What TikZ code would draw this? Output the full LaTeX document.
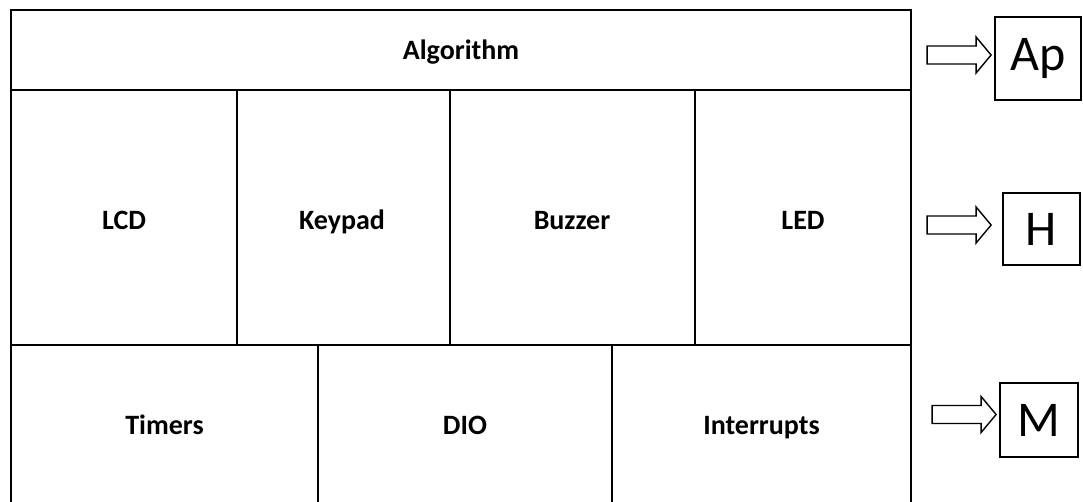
\documentclass[tikz,border=0pt]{standalone}
\usepackage{fontspec}
\setmainfont{Carlito}

\newcommand{\blockarrow}[1]{%
  \draw[hollow] (#1) ++(-64,-9) -- ++(49,0) -- ++(0,-9) -- ++(15,18)
    -- ++(-15,18) -- ++(0,-9) -- ++(-49,0) -- cycle;}

\begin{document}
\begin{tikzpicture}[x=1pt, y=-1pt,
    grid/.style={line width=2.8pt, line cap=rect},
    cell/.style={anchor=base, font=\fontsize{28}{32}\selectfont\bfseries},
    layer/.style={draw, line width=1.8pt, inner sep=0pt,
      font=\fontsize{50}{60}\selectfont},
    hollow/.style={draw, line width=1.4pt, line join=miter}]
  \useasboundingbox (0,0) rectangle (1083,501);
  % main stack, open at the bottom
  \draw[grid] (11,501) -- (11,10) -- (911,10) -- (911,501);
  \draw[grid] (11,90) -- (911,90);
  \draw[grid] (11,345) -- (911,345);
  \foreach \x in {237,450,695} \draw[grid] (\x,90) -- (\x,345);
  \foreach \x in {318,612} \draw[grid] (\x,345) -- (\x,501);
  \node[cell] (alg) at (461,59) {Algorithm};
  \node[cell] (lcd) at (124,229) {LCD};
  \node[cell] (keypad) at (342,229) {Keypad};
  \node[cell] (buzzer) at (572,229) {Buzzer};
  \node[cell] (led) at (803,229) {LED};
  \node[cell] (timers) at (164.5,434) {Timers};
  \node[cell] (dio) at (465,434) {DIO};
  \node[cell] (irq) at (761.5,434) {Interrupts};
  % layer tags on the right
  \node[layer, minimum width=86pt, minimum height=83pt] (ap) at (1038,58.5) {Ap};
  \node[layer, minimum width=77pt, minimum height=72pt] (hal) at (1041.5,229) {H};
  \node[layer, minimum width=78pt, minimum height=74pt] (mcal) at (1039,420) {M};
  \coordinate (toap) at ([xshift=-3pt, yshift=3.5pt]ap.west);
  \coordinate (tohal) at ([xshift=-11pt, yshift=4pt]hal.west);
  \coordinate (tomcal) at ([xshift=-3pt, yshift=5.5pt]mcal.west);
  \blockarrow{toap}
  \blockarrow{tohal}
  \blockarrow{tomcal}
\end{tikzpicture}
\end{document}
